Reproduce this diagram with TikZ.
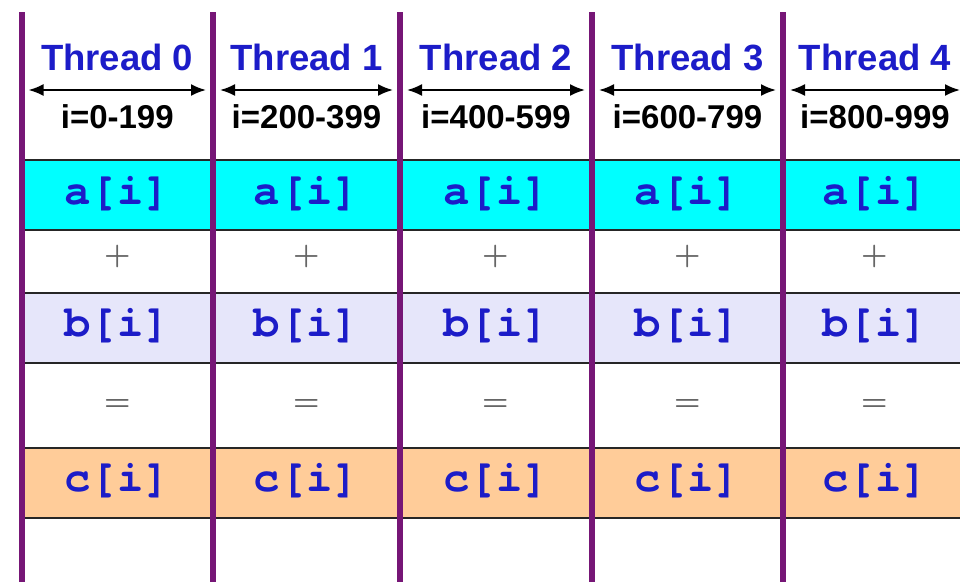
\documentclass[tikz,border=0pt]{standalone}
\usepackage{fontspec}
\setmainfont{Liberation Sans}
\newfontfamily\courier{texgyrecursor}[Extension=.otf,UprightFont=*-regular,BoldFont=*-bold]
\usetikzlibrary{arrows.meta,positioning}

\definecolor{threadblue}{RGB}{28,28,200}
\definecolor{seppurple}{RGB}{118,22,118}
\definecolor{rowa}{RGB}{0,255,255}
\definecolor{rowb}{RGB}{230,230,250}
\definecolor{rowc}{RGB}{255,204,153}

\begin{document}
\begin{tikzpicture}[x=1pt,y=-1pt,
  thread/.style={anchor=base,font=\fontsize{36.5}{36}\selectfont\bfseries,text=threadblue},
  idxrange/.style={anchor=base,font=\fontsize{33}{33}\selectfont\bfseries},
  cell/.style={anchor=base,font=\fontsize{44}{44}\selectfont\courier\bfseries,text=threadblue},
  op/.style={font=\fontsize{44}{44}\selectfont\courier,text=black!60},
  rowline/.style={line width=1.5pt,black!85},
  sepline/.style={line width=6pt,seppurple},
  spanarrow/.style={line width=2pt,{Latex[length=15pt,width=12pt]}-{Latex[length=15pt,width=12pt]}}]
\useasboundingbox (0,0) rectangle (960,582);

% row fills
\fill[rowa] (21.5,160) rectangle (960,230);
\fill[rowb] (21.5,293) rectangle (960,363);
\fill[rowc] (21.5,448) rectangle (960,518);
\foreach \y in {160,230,293,363,448,518}
  \draw[rowline] (21.5,\y) -- (960,\y);

% thread separators
\foreach \x [count=\n from 0] in {21.5,213,400,592,783,967}{
  \coordinate (top\n) at (\x,12);
  \coordinate (bot\n) at (\x,582);
}
\foreach \n in {0,...,4}
  \draw[sepline] (top\n) -- (bot\n);

% one column per thread
\foreach \k [count=\m from 1] in {0,...,4}{
  \path (top\k) -- (top\m) coordinate[pos=0.5] (mid\k);
  \coordinate (from\k) at ([xshift=7pt,yshift=-78pt]top\k);
  \coordinate (to\k) at ([xshift=-7pt,yshift=-78pt]top\m);
  \pgfmathtruncatemacro\lo{200*\k}
  \pgfmathtruncatemacro\hi{200*\k+199}
  \node[thread] (th\k) at ([yshift=-58pt]mid\k) {Thread \k};
  \draw[spanarrow] (from\k) -- (to\k);
  \node[idxrange] (rg\k) at ([yshift=-116pt]mid\k) {i=\lo-\hi};
  \node[cell] (a\k) at ([yshift=-192pt]mid\k) {a[i]};
  \node[op] (plus\k) at ([yshift=-244pt]mid\k) {+};
  \node[cell] (b\k) at ([yshift=-324pt]mid\k) {b[i]};
  \node[op] (eq\k) at ([yshift=-395pt]mid\k) {=};
  \node[cell] (c\k) at ([yshift=-479pt]mid\k) {c[i]};
}
\end{tikzpicture}
\end{document}
